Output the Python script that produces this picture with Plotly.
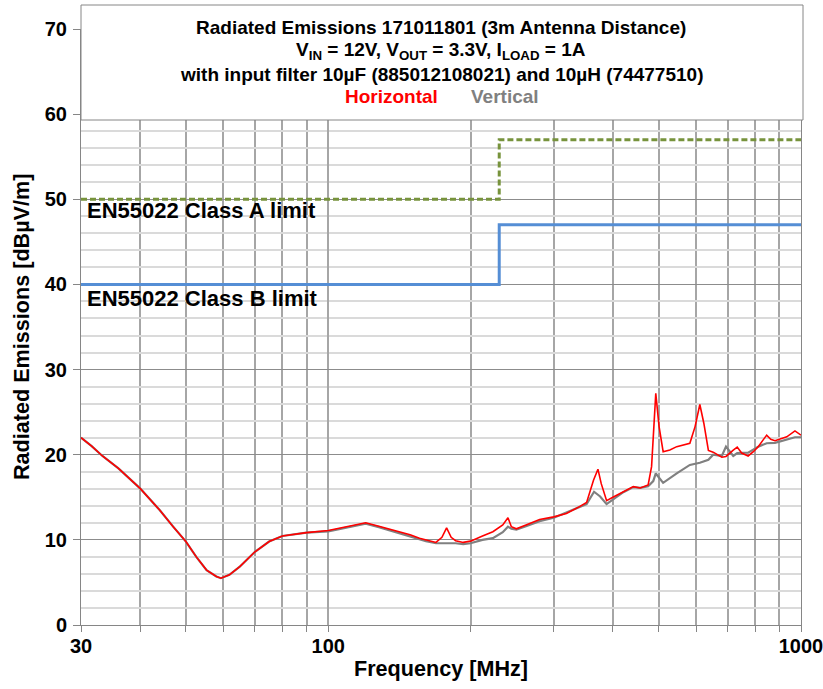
import plotly.graph_objects as go

# ---------------- data ----------------
freq_h = [30, 31.6, 33.3, 36, 40, 44, 47, 50, 52.6, 55.3, 58, 59.3, 61.8, 65, 70, 75, 80, 90, 100,
          109, 120, 128, 137, 149, 156, 161, 169, 174, 178, 182, 186, 193, 200, 212, 223, 234, 240,
          244, 250, 262, 280, 300, 319, 340, 352, 364, 372, 378, 388, 400, 421, 442, 457, 475, 483,
          493, 501, 511, 528, 546, 582, 597, 611, 623, 637, 652, 680, 694, 719, 733, 749, 773, 793,
          812, 846, 863, 881, 910, 933, 971, 988, 1000]
vals_h = [22.0, 21.0, 19.85, 18.4, 16.05, 13.5, 11.55, 9.8, 8.0, 6.45, 5.7, 5.5, 5.9, 6.85, 8.6, 9.8,
          10.45, 10.85, 11.1, 11.55, 12.0, 11.6, 11.15, 10.6, 10.2, 10.0, 9.7, 10.3, 11.4, 10.3, 9.9,
          9.7, 9.85, 10.45, 10.95, 11.75, 12.6, 11.55, 11.3, 11.75, 12.4, 12.7, 13.1, 13.9, 14.4, 17.0,
          18.3, 16.6, 14.6, 15.0, 15.65, 16.25, 16.1, 16.45, 18.6, 27.2, 23.3, 20.35, 20.55, 20.95,
          21.35, 23.3, 25.9, 23.7, 20.5, 20.3, 19.7, 19.8, 20.55, 20.9, 20.2, 19.85, 20.35, 20.95,
          22.3, 21.8, 21.65, 21.9, 22.1, 22.8, 22.5, 22.3]

freq_v = [30, 31.6, 33.3, 36, 40, 44, 47, 50, 52.6, 55.3, 58, 59.3, 61.8, 65, 70, 75, 80, 90, 100,
          109, 120, 128, 137, 149, 156, 161, 169, 178, 186, 193, 200, 212, 223, 234, 240, 244, 250,
          262, 280, 300, 319, 340, 352, 365, 376, 388, 400, 421, 442, 457, 475, 487, 493, 511, 546,
          582, 611, 637, 652, 680, 694, 719, 733, 773, 812, 846, 881, 933, 971, 1000]
vals_v = [22.0, 21.0, 19.85, 18.4, 16.05, 13.5, 11.55, 9.8, 8.0, 6.45, 5.7, 5.5, 5.9, 6.85, 8.6, 9.8,
          10.45, 10.85, 11.0, 11.45, 11.9, 11.5, 11.0, 10.45, 10.05, 9.85, 9.6, 9.6, 9.6, 9.5, 9.6,
          10.0, 10.2, 10.9, 11.55, 11.3, 11.2, 11.6, 12.2, 12.6, 13.2, 13.8, 14.2, 15.65, 15.1, 14.2,
          14.75, 15.6, 16.2, 16.1, 16.3, 16.9, 17.8, 16.7, 17.8, 18.8, 19.05, 19.4, 20.0, 19.85,
          20.95, 19.85, 20.2, 20.25, 20.95, 21.35, 21.4, 21.8, 22.05, 22.05]

limit_freq = [30, 230, 230, 1000]
class_a_vals = [50, 50, 57, 57]
class_b_vals = [40, 40, 47, 47]

x_label_vals = [30, 100, 1000]
x_label_text = ["30", "100", "1000"]
x_minor_vals = [40, 50, 60, 70, 80, 90, 200, 300, 400, 500, 600, 700, 800, 900]

# ---------------- figure ----------------
FONT = "Liberation Sans, Arial, sans-serif"
fig = go.Figure()

fig.add_trace(go.Scatter(x=limit_freq, y=class_a_vals, mode="lines",
                         line=dict(color="#77933C", width=3, dash="6px,3px"), hoverinfo="skip"))
fig.add_trace(go.Scatter(x=limit_freq, y=class_b_vals, mode="lines",
                         line=dict(color="#558ED5", width=3), hoverinfo="skip"))
fig.add_trace(go.Scatter(x=freq_v, y=vals_v, mode="lines", name="Vertical",
                         line=dict(color="#808080", width=2.2)))
fig.add_trace(go.Scatter(x=freq_h, y=vals_h, mode="lines", name="Horizontal",
                         line=dict(color="#FF0000", width=1.6)))

W, H = 823, 689
L, R, T, B = 81, 22, 29, 64
pw, ph = W - L - R, H - T - B


def px_x(x):
    return (x - L) / pw


def px_y(y):
    return (H - B - y) / ph


fig.update_layout(
    template="none",
    width=W, height=H,
    margin=dict(l=L, r=R, t=T, b=B, autoexpand=False),
    paper_bgcolor="white", plot_bgcolor="white",
    showlegend=False,
    font=dict(family=FONT, color="black"),
    xaxis=dict(type="log", range=[1.4771212547, 3.00001], automargin=False,
               tickmode="array", tickvals=x_label_vals, ticktext=x_label_text,
               ticks="outside", ticklen=6, tickcolor="#868686", tickwidth=1,
               ticklabelstandoff=-3, ticklabeloverflow="allow",
               showline=True, linecolor="#868686", linewidth=1,
               showgrid=True, gridcolor="#a6a6a6", gridwidth=1.5,
               minor=dict(tickmode="array", tickvals=x_minor_vals, showgrid=True,
                          gridcolor="#a6a6a6", gridwidth=1.5,
                          ticks="outside", ticklen=6, tickcolor="#868686", tickwidth=1),
               tickfont=dict(size=20, family=FONT, weight="bold", color="black"),
               zeroline=False),
    yaxis=dict(range=[0, 70], dtick=10, tick0=0, automargin=False,
               ticks="outside", ticklen=7, tickcolor="#868686", tickwidth=1,
               ticklabelstandoff=2, ticklabeloverflow="allow",
               showline=True, linecolor="#868686", linewidth=1, mirror=True,
               showgrid=True, gridcolor="#8c8c8c", gridwidth=1.3,
               minor=dict(dtick=2, showgrid=True, gridcolor="#dadada", gridwidth=2, ticks=""),
               tickfont=dict(size=20, family=FONT, weight="bold", color="black"),
               zeroline=False),
)

# title box
fig.add_shape(type="rect", xref="paper", yref="paper",
              x0=0, x1=px_x(803), y0=px_y(120), y1=px_y(5),
              line=dict(color="#868686", width=1), fillcolor="white", layer="above")

tfont = dict(family=FONT, size=19, weight="bold", color="black")
title_lines = [
    ("Radiated Emissions 171011801 (3m Antenna Distance)", 28),
    ("V<sub>IN</sub> = 12V, V<sub>OUT</sub> = 3.3V, I<sub>LOAD</sub> = 1A", 51),
    ("with input filter 10µF (885012108021) and 10µH (74477510)", 74),
]
for txt, yy in title_lines:
    fig.add_annotation(text=txt, xref="paper", yref="paper", x=px_x(441), y=px_y(yy),
                       xanchor="center", yanchor="middle", showarrow=False, font=tfont)
fig.add_annotation(text="Horizontal", xref="paper", yref="paper", x=px_x(391), y=px_y(97),
                   xanchor="center", yanchor="middle", showarrow=False,
                   font=dict(family=FONT, size=19, weight="bold", color="#FF0000"))
fig.add_annotation(text="Vertical", xref="paper", yref="paper", x=px_x(505), y=px_y(97),
                   xanchor="center", yanchor="middle", showarrow=False,
                   font=dict(family=FONT, size=19, weight="bold", color="#808080"))

# limit labels
lfont = dict(family=FONT, size=22, weight="bold", color="black")
fig.add_annotation(text="EN55022 Class A limit", xref="paper", yref="paper",
                   x=px_x(85), y=px_y(211), xanchor="left", yanchor="middle",
                   showarrow=False, font=lfont)
fig.add_annotation(text="EN55022 Class B limit", xref="paper", yref="paper",
                   x=px_x(85), y=px_y(298), xanchor="left", yanchor="middle",
                   showarrow=False, font=lfont)

# axis titles
afont = dict(family=FONT, size=21.6, weight="bold", color="black")
fig.add_annotation(text="Frequency [MHz]", xref="paper", yref="paper",
                   x=px_x(441), y=px_y(668), xanchor="center", yanchor="middle",
                   showarrow=False, font=afont)
fig.add_annotation(text="Radiated Emissions [dBµV/m]", xref="paper", yref="paper",
                   x=px_x(21), y=px_y(327), xanchor="center", yanchor="middle",
                   textangle=-90, showarrow=False, font=afont)

fig.write_html("out.html", config={"displayModeBar": False},
               post_script="document.body.style.margin='0';document.body.style.padding='0';")
